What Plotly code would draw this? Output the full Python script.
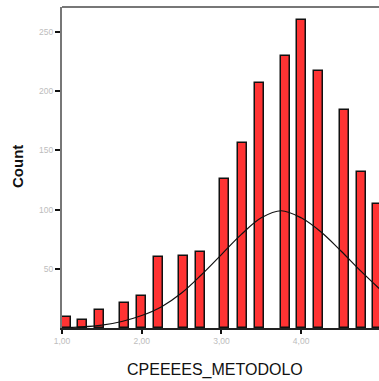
import plotly.graph_objects as go

# Histogram bars (bin centers and counts)
bin_centers = [1.055, 1.26, 1.467, 1.788, 1.997, 2.205, 2.525, 2.738, 3.04, 3.27,
               3.48, 3.80, 4.01, 4.22, 4.54, 4.76, 4.96]
counts = [9, 7, 15, 21, 27, 60, 61, 64, 126, 156, 207, 230, 260, 217, 184, 132, 105]

# Normal curve overlay
curve_x = [1.00, 1.25, 1.50, 1.75, 2.00, 2.25, 2.50, 2.75, 3.00, 3.25, 3.50,
           3.75, 4.00, 4.25, 4.50, 4.75, 5.00]
curve_y = [0.4, 1.0, 2.5, 5.5, 10.5, 18, 29.5, 45, 62, 79, 93,
           99, 93, 81, 65, 48, 32]

x_tickvals = [1, 2, 3, 4]
x_ticktext = ["1,00", "2,00", "3,00", "4,00"]
y_tickvals = [50, 100, 150, 200, 250]
y_ticktext = ["50", "100", "150", "200", "250"]

fig = go.Figure()
fig.add_trace(go.Bar(
    x=bin_centers, y=counts, width=0.112,
    marker=dict(color="#FF3333", line=dict(color="#111111", width=1.5)),
    showlegend=False, hoverinfo="skip"))
fig.add_trace(go.Scatter(
    x=curve_x, y=curve_y, mode="lines",
    line=dict(color="#111111", width=1.2, shape="spline"),
    showlegend=False, hoverinfo="skip", cliponaxis=True))

fig.update_layout(
    width=379, height=381,
    margin=dict(l=62, r=0, t=7, b=53),
    plot_bgcolor="white", paper_bgcolor="white",
    bargap=0,
    xaxis=dict(range=[1, 4.977], tickvals=x_tickvals, ticktext=x_ticktext,
               showgrid=False, zeroline=False, showline=True,
               linecolor="#222222", linewidth=1.5,
               ticks="outside", ticklen=4, tickwidth=1.5, tickcolor="#111111",
               tickfont=dict(family="Liberation Sans", size=8.5, color="#bdbdbd")),
    yaxis=dict(range=[0, 271], tickvals=y_tickvals, ticktext=y_ticktext,
               showgrid=False, zeroline=False, showline=True,
               linecolor="#777777", linewidth=2,
               ticks="outside", ticklen=5, tickwidth=2, tickcolor="#111111",
               tickfont=dict(family="Liberation Sans", size=8.5, color="#bdbdbd")),
    shapes=[dict(type="line", xref="paper", yref="paper", x0=0, x1=1, y0=1, y1=1,
                 line=dict(color="#777777", width=2))],
    annotations=[
        dict(text="CPEEEES_METODOLO", xref="paper", yref="paper",
             x=0.4826, y=-0.131, xanchor="center", yanchor="middle", showarrow=False,
             font=dict(family="Liberation Sans", size=16, color="#111111")),
        dict(text="<b>Count</b>", xref="paper", yref="paper", textangle=-90,
             x=-0.1388, y=0.5016, xanchor="center", yanchor="middle", showarrow=False,
             font=dict(family="Liberation Sans", size=15, color="#111111")),
    ],
)

fig.write_html("out.html")
